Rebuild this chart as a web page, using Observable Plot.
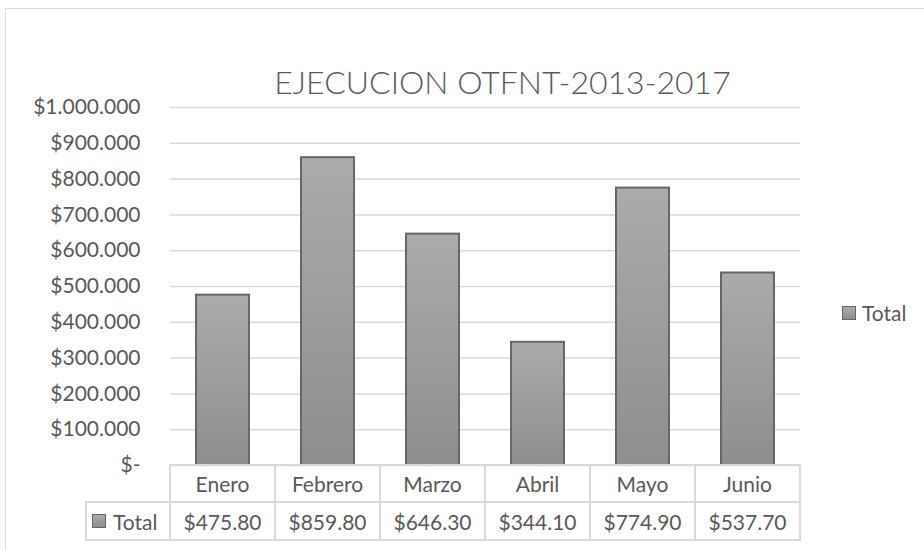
<!DOCTYPE html>
<html>
<head>
<meta charset="utf-8">
<script src="https://cdn.jsdelivr.net/npm/d3@7"></script>
<script src="https://cdn.jsdelivr.net/npm/@observablehq/plot@0.6"></script>
<style>
  html, body { margin: 0; padding: 0; background: #fff; }
  body { width: 924px; height: 550px; overflow: hidden; position: relative; font-family: Lato, "Open Sans", sans-serif; color: #595959; }
  #frame { position: absolute; left: 5px; top: 8px; width: 1000px; height: 1000px; border: 1px solid #d9d9d9; box-sizing: border-box; }
  #chart { position: absolute; left: 0; top: 0; }
  #legend { position: absolute; left: 842px; top: 302px; font-size: 21px; display: flex; align-items: center; gap: 6px; line-height: 1; }
  .sw { display: inline-block; width: 14px; height: 14px; border: 1.5px solid #666; background: linear-gradient(#ababab, #8e8e8e); box-sizing: border-box; }
  .cell { position: absolute; box-sizing: border-box; border: 2px solid #d9d9d9; display: flex; align-items: center; justify-content: center; font-size: 21px; line-height: 1; }
  .cell.key { justify-content: flex-start; padding-left: 5px; gap: 7px; }
</style>
</head>
<body>
<div id="frame"></div>
<div id="chart"></div>
<div id="legend"><span class="sw"></span><span>Total</span></div>
<script>
// ---- data ----
const months = ["Enero", "Febrero", "Marzo", "Abril", "Mayo", "Junio"];
const totals = [475.80, 859.80, 646.30, 344.10, 774.90, 537.70]; // as shown in the data table
const unitFactor = 1000; // axis is in pesos, table in thousands
const yTicks = [0, 100000, 200000, 300000, 400000, 500000, 600000, 700000, 800000, 900000, 1000000];
const seriesName = "Total";
const chartTitle = "EJECUCION OTFNT-2013-2017";

const data = months.map((m, i) => ({month: m, value: totals[i] * unitFactor}));

const fmtAxis = d => d === 0 ? "$-" : "$" + d3.format(",")(d).replace(/,/g, ".");
const fmtTable = v => "$" + v.toFixed(2);

const chart = Plot.plot({
  width: 924,
  height: 470,
  marginLeft: 170,
  marginRight: 124,
  marginTop: 107,
  marginBottom: 5,
  style: {fontFamily: "Lato, 'Open Sans', sans-serif", fontSize: "21px", color: "#595959", background: "transparent", overflow: "visible"},
  x: {domain: months, paddingInner: 0.5, paddingOuter: 0.25, axis: null},
  y: {domain: [0, 1000000], ticks: yTicks, tickFormat: fmtAxis, tickSize: 0, tickPadding: 30, label: null},
  marks: [
    Plot.ruleY(yTicks, {stroke: "#d9d9d9", strokeWidth: 1.5}),
    Plot.barY(data, {x: "month", y: "value", fill: "url(#barGrad)", stroke: "#666", strokeWidth: 2}),
    Plot.text([chartTitle], {frameAnchor: "top", dy: -14, dx: 17, lineAnchor: "bottom", fontSize: 32, fontWeight: 300, fill: "#595959"})
  ]
});

// gradient definition for the bars
const NS = "http://www.w3.org/2000/svg";
const defs = document.createElementNS(NS, "defs");
const grad = document.createElementNS(NS, "linearGradient");
grad.setAttribute("id", "barGrad");
grad.setAttribute("x1", "0"); grad.setAttribute("y1", "0");
grad.setAttribute("x2", "0"); grad.setAttribute("y2", "1");
[["0", "#ababab"], ["1", "#8e8e8e"]].forEach(([o, c]) => {
  const s = document.createElementNS(NS, "stop");
  s.setAttribute("offset", o); s.setAttribute("stop-color", c);
  grad.appendChild(s);
});
defs.appendChild(grad);
chart.insertBefore(defs, chart.firstChild);
document.getElementById("chart").appendChild(chart);

// data table under the chart, aligned to the x scale
const xs = chart.scale("x");
const ys = chart.scale("y");
const step = xs.step, bw = xs.bandwidth;
const top0 = ys.apply(0);
const h1 = 37, h2 = 38;
function cell(left, top, w, h, html, cls) {
  const d = document.createElement("div");
  d.className = "cell" + (cls ? " " + cls : "");
  d.style.left = (left - 1) + "px";
  d.style.top = (top - 1) + "px";
  d.style.width = (w + 2) + "px";
  d.style.height = (h + 2) + "px";
  d.innerHTML = html;
  document.body.appendChild(d);
}
let firstLeft = Infinity;
months.forEach((m, i) => {
  const left = xs.apply(m) - (step - bw) / 2;
  firstLeft = Math.min(firstLeft, left);
  cell(left, top0, step, h1, m);
  cell(left, top0 + h1, step, h2, fmtTable(totals[i]));
});
cell(86, top0 + h1, firstLeft - 86, h2, '<span class="sw"></span><span>' + seriesName + '</span>', "key");
</script>
</body>
</html>
